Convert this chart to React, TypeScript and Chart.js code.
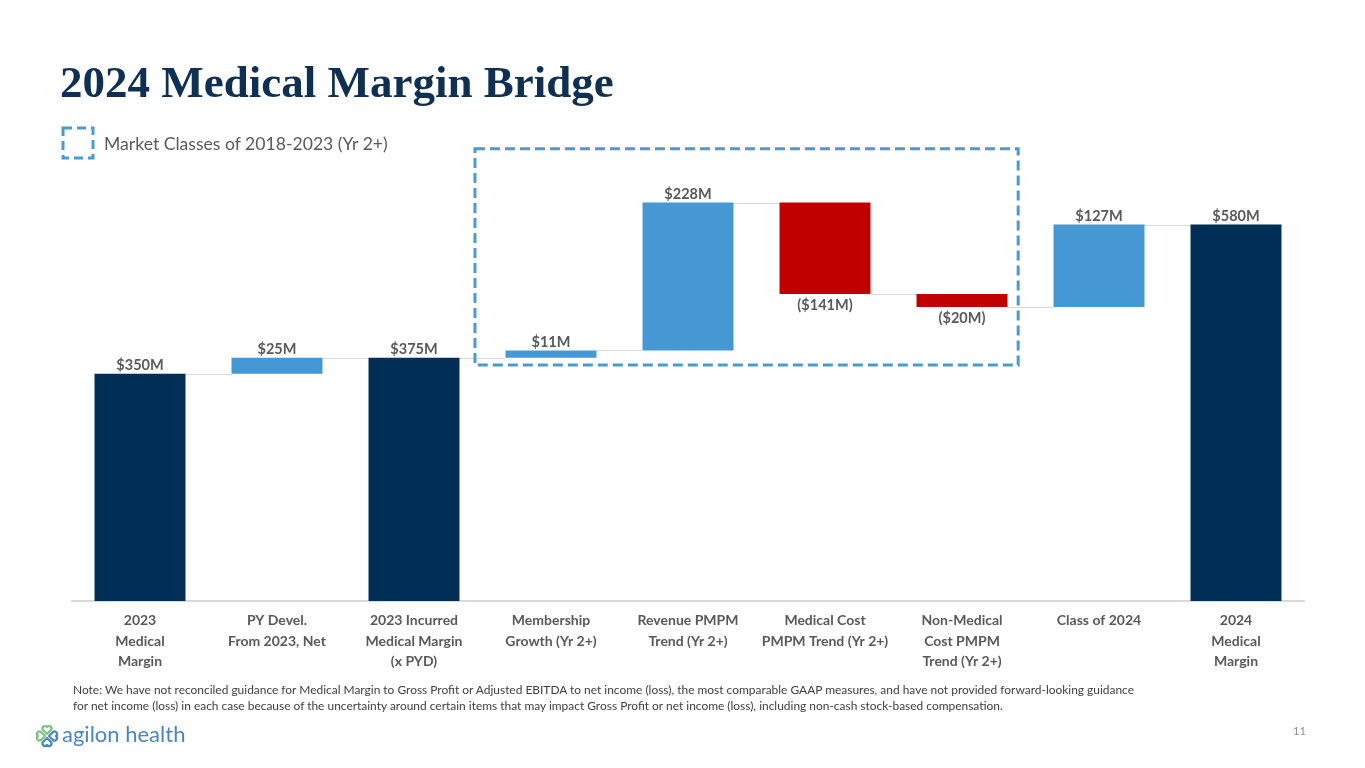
import React, { useEffect, useRef } from "react";
import { Chart, registerables } from "chart.js";
Chart.register(...registerables);

const categories: string[][] = [
  ["2023", "Medical", "Margin"],
  ["PY Devel.", "From 2023, Net"],
  ["2023 Incurred", "Medical Margin", "(x PYD)"],
  ["Membership", "Growth (Yr 2+)"],
  ["Revenue PMPM", "Trend (Yr 2+)"],
  ["Medical Cost", "PMPM Trend (Yr 2+)"],
  ["Non-Medical", "Cost PMPM", "Trend (Yr 2+)"],
  ["Class of 2024"],
  ["2024", "Medical", "Margin"],
];
const values: number[] = [350, 25, 375, 11, 228, -141, -20, 127, 580];
const isTotal: boolean[] = [true, false, true, false, false, false, false, false, true];
const highlightedRange: number[] = [3, 6];
const yMin = 0;
const yMax = 700;

const NAVY = "#002E55";
const BLUE = "#4598D3";
const RED = "#C00000";
const LABEL = "#595959";
const CONNECT = "#D9D9D9";
const DASH = "#4A9BD1";

function buildRanges(): [number, number][] {
  let run = 0;
  return values.map((v, i) => {
    if (isTotal[i]) {
      run = v;
      return [0, v] as [number, number];
    }
    const s = run;
    run += v;
    return [s, run] as [number, number];
  });
}

function fmt(v: number) {
  return v < 0 ? `($${-v}M)` : `$${v}M`;
}

export default function App() {
  const ref = useRef<HTMLCanvasElement | null>(null);

  useEffect(() => {
    document.body.style.margin = "0";
    const ranges = buildRanges();
    const colors = values.map((v, i) => (isTotal[i] ? NAVY : v < 0 ? RED : BLUE));

    const decor = {
      id: "waterfallDecor",
      beforeDatasetsDraw(chart: any) {
        const ctx = chart.ctx;
        const meta = chart.getDatasetMeta(0);
        const ys = chart.scales.y;
        ctx.save();
        ctx.strokeStyle = CONNECT;
        ctx.lineWidth = 1;
        for (let i = 0; i < ranges.length - 1; i++) {
          const a = meta.data[i] as any;
          const b = meta.data[i + 1] as any;
          const y = Math.round(ys.getPixelForValue(ranges[i][1])) + 0.5;
          ctx.beginPath();
          ctx.moveTo(a.x + a.width / 2, y);
          ctx.lineTo(b.x - b.width / 2, y);
          ctx.stroke();
        }
        ctx.restore();
      },
      afterDatasetsDraw(chart: any) {
        const ctx = chart.ctx;
        const meta = chart.getDatasetMeta(0);
        const ys = chart.scales.y;
        const xs = chart.scales.x;
        ctx.save();
        ctx.font = "bold 14.5px Lato";
        ctx.fillStyle = LABEL;
        ctx.textAlign = "center";
        values.forEach((v, i) => {
          const el = meta.data[i] as any;
          const top = Math.min(ys.getPixelForValue(ranges[i][0]), ys.getPixelForValue(ranges[i][1]));
          const bot = Math.max(ys.getPixelForValue(ranges[i][0]), ys.getPixelForValue(ranges[i][1]));
          if (v < 0) {
            ctx.textBaseline = "top";
            ctx.fillText(fmt(v), el.x, bot + 4);
          } else {
            ctx.textBaseline = "bottom";
            ctx.fillText(fmt(v), el.x, top - 1);
          }
        });
        // dashed highlight box
        const left = xs.getPixelForValue(highlightedRange[0] - 0.555);
        const right = xs.getPixelForValue(highlightedRange[1] + 0.41);
        const bTop = ys.getPixelForValue(697);
        const bBot = ys.getPixelForValue(363.5);
        ctx.strokeStyle = DASH;
        ctx.lineWidth = 3;
        ctx.setLineDash([10, 5]);
        ctx.strokeRect(left, bTop, right - left, bBot - bTop);
        ctx.restore();
      },
    };

    const chart = new Chart(ref.current as HTMLCanvasElement, {
      type: "bar",
      data: {
        labels: categories,
        datasets: [
          {
            data: ranges as any,
            backgroundColor: colors,
            borderWidth: 0,
            barPercentage: 0.664,
            categoryPercentage: 1,
          },
        ],
      },
      options: {
        animation: false,
        responsive: false,
        maintainAspectRatio: false,
        layout: { padding: { left: 71.5, right: 60.5, top: 146.7, bottom: 77 } },
        plugins: { legend: { display: false }, tooltip: { enabled: false } },
        scales: {
          x: {
            grid: { display: false, drawTicks: false },
            border: { display: true, color: CONNECT, width: 2 },
            ticks: {
              font: { family: "Lato", weight: "bold", size: 14, lineHeight: 1.48 },
              color: LABEL,
              padding: 9,
              maxRotation: 0,
              autoSkip: false,
            },
            afterFit: (s: any) => {
              s.height = 90;
            },
          },
          y: { display: false, min: yMin, max: yMax },
        },
      },
      plugins: [decor],
    });
    return () => chart.destroy();
  }, []);

  return (
    <div
      style={{
        position: "fixed",
        left: 0,
        top: 0,
        width: 1365,
        height: 768,
        background: "#fff",
        overflow: "hidden",
        fontFamily: "Lato, sans-serif",
      }}
    >
      <canvas ref={ref} width={1365} height={768} style={{ position: "absolute", left: 0, top: 0, width: 1365, height: 768 }} />
      <div
        style={{
          position: "absolute",
          left: 60,
          top: 60,
          fontFamily: "'Liberation Serif', serif",
          fontWeight: "bold",
          fontSize: 45,
          lineHeight: "45px",
          color: "#0F3052",
          whiteSpace: "nowrap",
        }}
      >
        2024 Medical Margin Bridge
      </div>
      <svg style={{ position: "absolute", left: 60, top: 125 }} width={36} height={36}>
        <rect x={3} y={3} width={30} height={30} fill="none" stroke={DASH} strokeWidth={3} strokeDasharray="9 5" />
      </svg>
      <div
        style={{
          position: "absolute",
          left: 104,
          top: 132,
          fontSize: 17.6,
          lineHeight: "24px",
          color: LABEL,
          whiteSpace: "nowrap",
        }}
      >
        Market Classes of 2018-2023 (Yr 2+)
      </div>
      <div
        style={{
          position: "absolute",
          left: 73,
          top: 682,
          fontSize: 11.95,
          lineHeight: "16px",
          color: "#404040",
          whiteSpace: "nowrap",
        }}
      >
        Note: We have not reconciled guidance for Medical Margin to Gross Profit or Adjusted EBITDA to net income (loss), the most comparable GAAP measures, and have not provided forward-looking guidance
        <br />
        for net income (loss) in each case because of the uncertainty around certain items that may impact Gross Profit or net income (loss), including non-cash stock-based compensation.
      </div>
      <svg style={{ position: "absolute", left: 34, top: 723 }} width={26} height={26} viewBox="0 0 26 26">
        <g fill="none" strokeWidth={2.2} strokeLinecap="round" strokeLinejoin="round">
          <path d="M13 11 L9 7 A2.5 2.5 0 0 1 13 4 A2.5 2.5 0 0 1 17 7 Z" stroke="#7CC47F" />
          <path d="M11 13 L7 9 A2.5 2.5 0 0 0 4 13 A2.5 2.5 0 0 0 7 17 Z" stroke="#7CC47F" />
          <path d="M15 13 L19 9 A2.5 2.5 0 0 1 22 13 A2.5 2.5 0 0 1 19 17 Z" stroke="#4A86C6" />
          <path d="M13 15 L9 19 A2.5 2.5 0 0 0 13 22 A2.5 2.5 0 0 0 17 19 Z" stroke="#4A86C6" />
        </g>
      </svg>
      <div
        style={{
          position: "absolute",
          left: 62,
          top: 721,
          fontSize: 22,
          lineHeight: "26px",
          color: "#4A86C6",
          whiteSpace: "nowrap",
        }}
      >
        agilon health
      </div>
      <div
        style={{
          position: "absolute",
          left: 1293,
          top: 724,
          fontSize: 11,
          lineHeight: "14px",
          color: "#8C8C8C",
        }}
      >
        11
      </div>
    </div>
  );
}
